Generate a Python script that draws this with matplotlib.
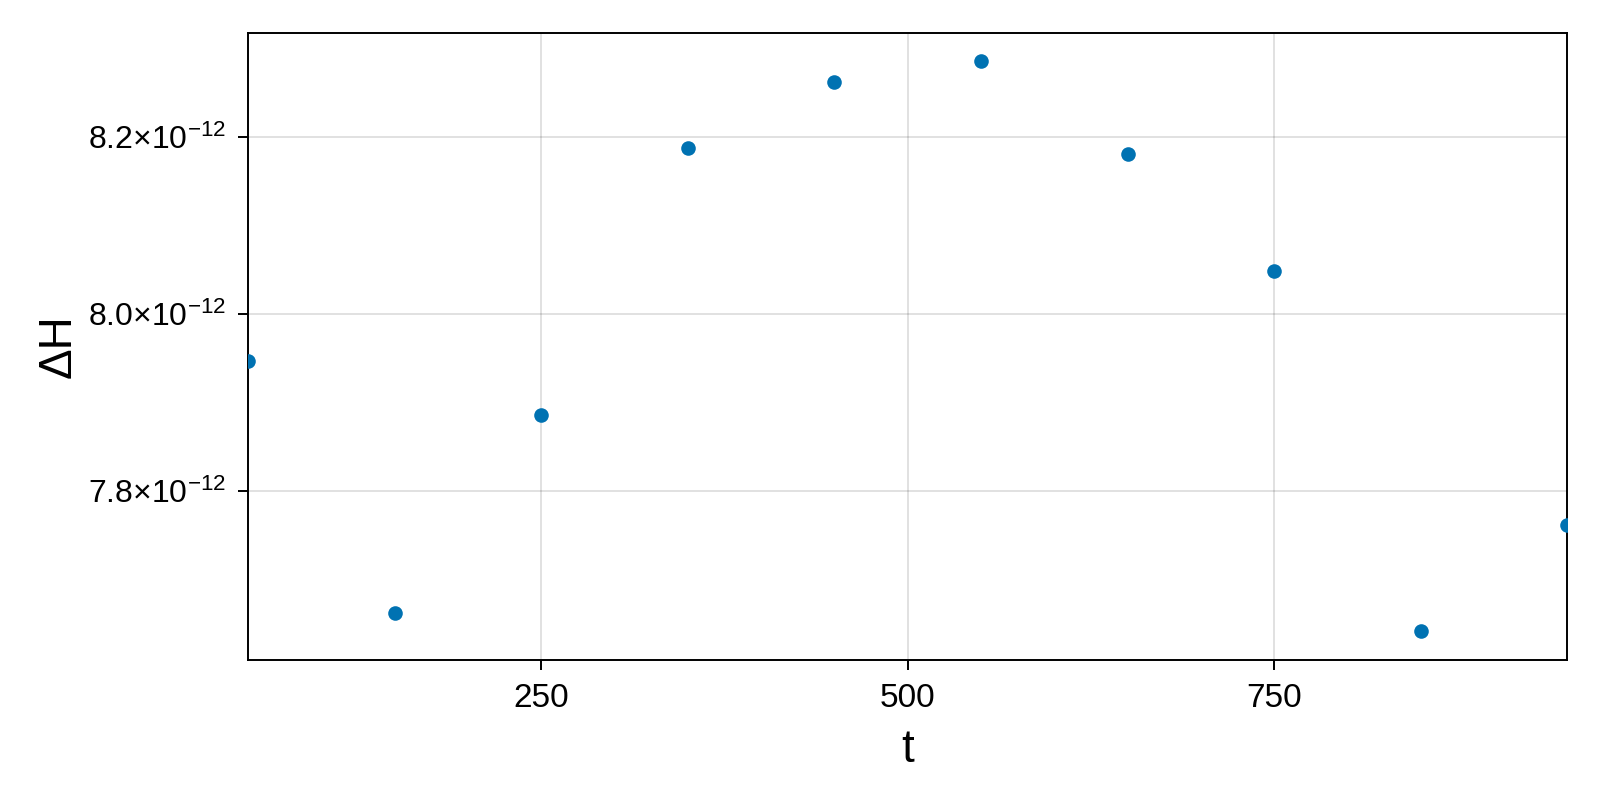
import numpy as np
import matplotlib.pyplot as plt
from matplotlib.ticker import FuncFormatter

# energy error sampled every 100 steps
t = [50, 150, 250, 350, 450, 550, 650, 750, 850, 950]
dH = [7.947e-12, 7.662e-12, 7.885e-12, 8.187e-12, 8.262e-12,
      8.285e-12, 8.180e-12, 8.048e-12, 7.641e-12, 7.761e-12]
xticks = [250, 500, 750]
yticks = [7.8e-12, 8.0e-12, 8.2e-12]

plt.rcParams['font.family'] = ['Liberation Sans', 'DejaVu Sans']
plt.rcParams['mathtext.fontset'] = 'custom'
plt.rcParams['mathtext.rm'] = 'Liberation Sans'
plt.rcParams['mathtext.it'] = 'Liberation Sans'

fig = plt.figure(figsize=(16, 8), dpi=100)
ax = fig.add_axes([0.155, 0.175, 0.8246, 0.784])

ax.scatter(t, dH, s=10.5**2, color='#0072B2', linewidths=0, zorder=3)

lo, hi = min(dH), max(dH)
pad = (hi - lo) * 0.05
ax.set_xlim(50, 950)
ax.set_ylim(lo - pad, hi + pad)

ax.set_xticks(xticks)
ax.set_yticks(yticks)


def fmt(v, pos):
    m = v / 1e-12
    return r'$%.1f{\times}10^{-12}$' % m


ax.yaxis.set_major_formatter(FuncFormatter(fmt))
ax.tick_params(direction='out', length=7.5, width=1.4, labelsize=24, pad=7)
ax.tick_params(axis='y', labelsize=23, pad=8)
ax.tick_params(axis='x', pad=9)
ax.grid(True, color='black', alpha=0.12, linewidth=1.4)
ax.set_axisbelow(True)
for s in ax.spines.values():
    s.set_linewidth(1.4)

ax.set_xlabel('t', fontsize=33, labelpad=10)
ax.set_ylabel('ΔH', fontsize=33, labelpad=6)

plt.savefig('out.png', dpi=100)
